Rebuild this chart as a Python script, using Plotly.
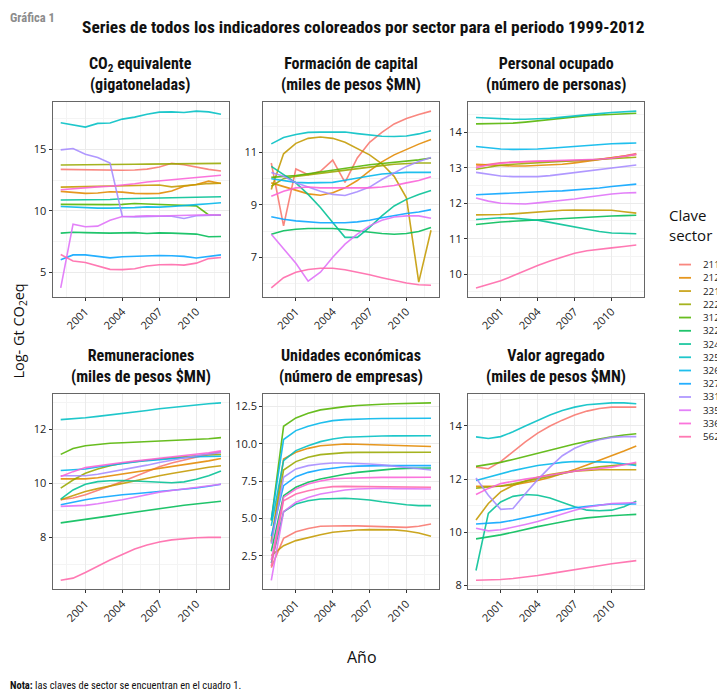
import math
import plotly.graph_objects as go

years = list(range(1999, 2013))
sectors = ["211", "212", "221", "222", "312", "322", "324", "325", "326", "327", "331", "335", "336", "562"]

co2 = {
    "211": [13.38, 13.36, 13.33, 13.32, 13.32, 13.31, 13.33, 13.40, 13.57, 13.87, 13.76, 13.54, 13.38, 13.25],
    "212": [11.58, 11.52, 11.42, 11.45, 11.55, 11.52, 11.42, 11.40, 11.42, 11.62, 12.00, 12.15, 12.42, 12.22],
    "221": [11.93, 11.95, 11.98, 11.98, 11.98, 12.00, 12.05, 12.08, 12.10, 11.95, 12.05, 12.15, 12.22, 12.25],
    "222": [13.73, 13.75, 13.76, 13.77, 13.78, 13.79, 13.80, 13.81, 13.82, 13.83, 13.84, 13.85, 13.86, 13.87],
    "312": [10.52, 10.50, 10.50, 10.50, 10.50, 10.52, 10.60, 10.55, 10.50, 10.50, 10.42, 10.40, 9.66, 9.64],
    "322": [8.18, 8.25, 8.22, 8.18, 8.18, 8.20, 8.22, 8.15, 8.20, 8.18, 8.15, 8.10, 7.88, 7.90],
    "324": [10.88, 10.88, 10.88, 10.90, 10.92, 10.98, 11.00, 11.00, 11.00, 11.02, 11.05, 11.08, 11.12, 11.15],
    "325": [17.18, 17.00, 16.83, 17.13, 17.16, 17.48, 17.64, 17.88, 18.05, 18.07, 18.02, 18.13, 18.07, 17.88],
    "326": [10.35, 10.30, 10.22, 10.22, 10.22, 10.22, 10.26, 10.32, 10.30, 10.35, 10.40, 10.50, 10.58, 10.65],
    "327": [6.00, 6.40, 6.40, 6.30, 6.16, 6.25, 6.30, 6.30, 6.35, 6.33, 6.28, 6.15, 6.30, 6.40],
    "331": [14.97, 15.08, 14.62, 14.35, 13.90, 9.53, 9.50, 9.55, 9.55, 9.55, 9.37, 9.60, 9.66, 9.66],
    "335": [3.71, 8.91, 8.70, 8.75, 9.23, 9.53, 9.55, 9.60, 9.58, 9.60, 9.65, 9.70, 9.68, 9.66],
    "336": [11.71, 11.80, 11.88, 11.95, 12.00, 12.08, 12.20, 12.35, 12.45, 12.55, 12.65, 12.72, 12.80, 12.90],
    "562": [6.43, 5.90, 5.78, 5.50, 5.22, 5.20, 5.27, 5.50, 5.60, 5.62, 5.57, 5.73, 6.10, 6.19],
}

capital = {
    "211": [10.60, 8.20, 10.37, 10.15, 10.28, 10.71, 9.86, 10.79, 11.39, 11.77, 12.09, 12.30, 12.45, 12.58],
    "212": [9.84, 9.71, 9.55, 9.42, 9.37, 9.46, 9.65, 9.93, 10.30, 10.64, 10.91, 11.13, 11.32, 11.50],
    "221": [9.59, 10.95, 11.35, 11.54, 11.59, 11.54, 11.39, 11.16, 10.91, 10.57, 10.09, 9.27, 6.05, 8.03],
    "222": [9.71, 10.00, 10.09, 10.15, 10.22, 10.28, 10.34, 10.40, 10.45, 10.50, 10.55, 10.58, 10.60, 10.60],
    "312": [10.05, 10.08, 10.12, 10.19, 10.26, 10.34, 10.40, 10.47, 10.53, 10.58, 10.62, 10.66, 10.72, 10.79],
    "322": [7.88, 8.01, 8.07, 8.10, 8.10, 8.10, 8.06, 8.01, 7.95, 7.91, 7.88, 7.91, 7.98, 8.14],
    "324": [10.47, 10.15, 9.84, 9.40, 8.90, 8.33, 7.76, 7.76, 8.14, 8.58, 8.96, 9.21, 9.40, 9.55],
    "325": [11.33, 11.57, 11.69, 11.77, 11.78, 11.78, 11.78, 11.72, 11.66, 11.62, 11.61, 11.63, 11.71, 11.83],
    "326": [10.00, 9.93, 9.86, 9.84, 9.84, 9.86, 9.94, 10.03, 10.10, 10.18, 10.22, 10.24, 10.24, 10.24],
    "327": [8.55, 8.45, 8.39, 8.35, 8.32, 8.32, 8.32, 8.35, 8.41, 8.51, 8.60, 8.67, 8.73, 8.82],
    "331": [10.24, 10.09, 9.84, 9.68, 9.52, 9.40, 9.36, 9.50, 9.68, 9.97, 10.22, 10.47, 10.66, 10.81],
    "335": [7.88, 7.34, 6.77, 6.09, 6.43, 7.00, 7.50, 7.88, 8.20, 8.41, 8.54, 8.58, 8.58, 8.49],
    "336": [9.33, 9.52, 9.65, 9.68, 9.65, 9.65, 9.65, 9.65, 9.65, 9.68, 9.74, 9.84, 9.93, 10.07],
    "562": [5.83, 6.22, 6.43, 6.53, 6.58, 6.58, 6.52, 6.43, 6.33, 6.22, 6.12, 6.02, 5.95, 5.93],
}

personal = {
    "211": [13.05, 13.10, 13.14, 13.16, 13.17, 13.17, 13.18, 13.19, 13.19, 13.21, 13.24, 13.28, 13.33, 13.40],
    "212": [13.10, 13.08, 13.06, 13.05, 13.05, 13.06, 13.08, 13.10, 13.14, 13.18, 13.23, 13.28, 13.33, 13.38],
    "221": [11.67, 11.67, 11.68, 11.70, 11.73, 11.76, 11.78, 11.80, 11.81, 11.81, 11.80, 11.80, 11.76, 11.72],
    "222": [12.96, 13.02, 13.07, 13.10, 13.12, 13.14, 13.16, 13.18, 13.20, 13.21, 13.23, 13.26, 13.28, 13.30],
    "312": [14.24, 14.24, 14.24, 14.26, 14.29, 14.33, 14.37, 14.41, 14.45, 14.47, 14.49, 14.51, 14.53, 14.54],
    "322": [11.40, 11.44, 11.47, 11.49, 11.51, 11.54, 11.56, 11.58, 11.59, 11.60, 11.62, 11.64, 11.65, 11.66],
    "324": [11.54, 11.57, 11.59, 11.58, 11.56, 11.52, 11.46, 11.39, 11.33, 11.26, 11.20, 11.16, 11.14, 11.14],
    "325": [14.42, 14.40, 14.38, 14.37, 14.37, 14.38, 14.40, 14.43, 14.47, 14.50, 14.53, 14.56, 14.58, 14.60],
    "326": [13.60, 13.56, 13.53, 13.52, 13.52, 13.53, 13.55, 13.58, 13.61, 13.63, 13.66, 13.68, 13.69, 13.70],
    "327": [12.24, 12.26, 12.28, 12.30, 12.31, 12.33, 12.34, 12.35, 12.37, 12.40, 12.43, 12.47, 12.51, 12.54],
    "331": [12.87, 12.82, 12.77, 12.75, 12.74, 12.75, 12.78, 12.82, 12.87, 12.91, 12.96, 13.00, 13.04, 13.08],
    "335": [12.15, 12.06, 12.00, 11.98, 11.98, 12.01, 12.04, 12.08, 12.12, 12.17, 12.22, 12.26, 12.29, 12.30],
    "336": [13.00, 13.08, 13.13, 13.16, 13.18, 13.19, 13.20, 13.20, 13.21, 13.22, 13.24, 13.27, 13.32, 13.38],
    "562": [9.61, 9.70, 9.81, 9.95, 10.10, 10.24, 10.37, 10.49, 10.59, 10.66, 10.71, 10.74, 10.78, 10.82],
}

remuneraciones = {
    "211": [9.39, 9.45, 9.57, 9.75, 9.90, 10.06, 10.25, 10.43, 10.61, 10.75, 10.86, 10.98, 11.08, 11.17],
    "212": [10.16, 10.16, 10.16, 10.20, 10.27, 10.33, 10.39, 10.46, 10.53, 10.60, 10.67, 10.74, 10.83, 10.92],
    "221": [9.39, 9.55, 9.69, 9.80, 9.90, 10.00, 10.10, 10.19, 10.28, 10.36, 10.44, 10.52, 10.59, 10.65],
    "222": [9.82, 10.12, 10.37, 10.53, 10.65, 10.74, 10.80, 10.86, 10.90, 10.94, 10.98, 11.02, 11.05, 11.07],
    "312": [11.07, 11.29, 11.39, 11.44, 11.48, 11.50, 11.52, 11.54, 11.56, 11.57, 11.59, 11.61, 11.65, 11.69],
    "322": [8.53, 8.59, 8.65, 8.72, 8.79, 8.86, 8.93, 9.00, 9.06, 9.12, 9.18, 9.23, 9.28, 9.33],
    "324": [9.41, 9.75, 9.96, 10.06, 10.09, 10.10, 10.08, 10.06, 10.04, 10.02, 10.05, 10.15, 10.28, 10.45],
    "325": [12.36, 12.39, 12.43, 12.48, 12.53, 12.58, 12.64, 12.70, 12.76, 12.81, 12.86, 12.91, 12.95, 12.98],
    "326": [10.47, 10.50, 10.53, 10.60, 10.67, 10.74, 10.79, 10.84, 10.88, 10.92, 10.95, 10.98, 10.99, 11.00],
    "327": [9.20, 9.30, 9.39, 9.46, 9.52, 9.57, 9.61, 9.65, 9.69, 9.73, 9.77, 9.82, 9.89, 9.96],
    "331": [10.28, 10.28, 10.28, 10.33, 10.41, 10.49, 10.58, 10.67, 10.77, 10.86, 10.94, 11.02, 11.08, 11.14],
    "335": [9.14, 9.15, 9.18, 9.24, 9.31, 9.39, 9.48, 9.57, 9.67, 9.73, 9.79, 9.84, 9.90, 9.96],
    "336": [10.25, 10.43, 10.58, 10.65, 10.72, 10.77, 10.82, 10.87, 10.92, 10.97, 11.02, 11.07, 11.13, 11.20],
    "562": [6.40, 6.48, 6.69, 6.93, 7.15, 7.36, 7.56, 7.71, 7.82, 7.90, 7.95, 7.98, 7.99, 7.99],
}

unidades = {
    "211": [1.70, 3.66, 4.11, 4.33, 4.47, 4.51, 4.51, 4.50, 4.47, 4.45, 4.43, 4.40, 4.47, 4.63],
    "212": [3.50, 8.99, 9.44, 9.70, 9.88, 9.95, 9.99, 9.97, 9.95, 9.92, 9.89, 9.86, 9.83, 9.82],
    "221": [2.50, 3.17, 3.51, 3.73, 3.91, 4.07, 4.16, 4.22, 4.25, 4.25, 4.23, 4.16, 4.02, 3.80],
    "222": [3.40, 8.25, 8.81, 9.10, 9.28, 9.37, 9.41, 9.43, 9.44, 9.44, 9.44, 9.44, 9.44, 9.44],
    "312": [4.85, 11.18, 11.74, 12.05, 12.28, 12.41, 12.50, 12.57, 12.63, 12.66, 12.69, 12.72, 12.74, 12.75],
    "322": [2.80, 6.53, 7.09, 7.42, 7.65, 7.82, 7.96, 8.09, 8.18, 8.27, 8.32, 8.36, 8.37, 8.38],
    "324": [2.00, 5.45, 5.97, 6.19, 6.30, 6.35, 6.35, 6.30, 6.24, 6.12, 6.01, 5.92, 5.86, 5.86],
    "325": [4.50, 8.88, 9.55, 9.88, 10.15, 10.33, 10.44, 10.48, 10.51, 10.53, 10.54, 10.55, 10.55, 10.55],
    "326": [4.90, 10.29, 10.89, 11.18, 11.40, 11.56, 11.63, 11.67, 11.69, 11.70, 11.71, 11.72, 11.72, 11.72],
    "327": [3.80, 7.20, 7.80, 8.09, 8.27, 8.38, 8.47, 8.51, 8.54, 8.54, 8.54, 8.54, 8.54, 8.54],
    "331": [3.30, 7.76, 8.32, 8.54, 8.65, 8.72, 8.72, 8.70, 8.65, 8.59, 8.50, 8.41, 8.32, 8.25],
    "335": [0.85, 5.45, 6.08, 6.41, 6.64, 6.80, 6.91, 6.97, 7.02, 7.02, 7.00, 6.99, 6.98, 6.97],
    "336": [2.20, 6.41, 6.97, 7.31, 7.51, 7.65, 7.69, 7.72, 7.74, 7.75, 7.75, 7.76, 7.76, 7.76],
    "562": [1.80, 6.19, 6.64, 6.86, 7.02, 7.13, 7.15, 7.14, 7.13, 7.12, 7.11, 7.09, 7.09, 7.09],
}

valor = {
    "211": [12.45, 12.39, 12.66, 13.04, 13.40, 13.73, 14.00, 14.22, 14.41, 14.56, 14.66, 14.71, 14.72, 14.71],
    "212": [11.73, 11.72, 11.73, 11.78, 11.86, 11.95, 12.06, 12.20, 12.36, 12.53, 12.70, 12.88, 13.06, 13.25],
    "221": [10.46, 11.08, 11.52, 11.76, 11.93, 12.07, 12.17, 12.25, 12.30, 12.33, 12.35, 12.35, 12.35, 12.35],
    "222": [11.66, 11.70, 11.74, 11.82, 11.92, 12.01, 12.12, 12.22, 12.32, 12.40, 12.46, 12.51, 12.55, 12.57],
    "312": [12.48, 12.55, 12.63, 12.74, 12.86, 12.97, 13.09, 13.21, 13.32, 13.42, 13.51, 13.59, 13.66, 13.71],
    "322": [9.75, 9.82, 9.90, 10.00, 10.11, 10.21, 10.30, 10.39, 10.48, 10.54, 10.59, 10.62, 10.65, 10.67],
    "324": [8.56, 10.71, 11.14, 11.35, 11.42, 11.39, 11.29, 11.12, 10.96, 10.83, 10.81, 10.83, 10.96, 11.17],
    "325": [13.59, 13.53, 13.60, 13.78, 14.00, 14.21, 14.41, 14.58, 14.71, 14.80, 14.84, 14.87, 14.87, 14.84],
    "326": [11.95, 12.08, 12.20, 12.32, 12.42, 12.51, 12.57, 12.63, 12.66, 12.66, 12.65, 12.63, 12.58, 12.51],
    "327": [10.31, 10.33, 10.37, 10.45, 10.55, 10.65, 10.74, 10.84, 10.92, 10.98, 11.02, 11.06, 11.06, 11.06],
    "331": [12.04, 11.39, 10.86, 10.89, 11.45, 11.98, 12.45, 12.88, 13.16, 13.35, 13.48, 13.57, 13.60, 13.60],
    "335": [10.15, 10.05, 10.09, 10.18, 10.29, 10.40, 10.54, 10.69, 10.83, 10.94, 11.02, 11.08, 11.10, 11.12],
    "336": [11.42, 11.65, 11.83, 11.92, 12.00, 12.07, 12.15, 12.23, 12.30, 12.35, 12.40, 12.45, 12.54, 12.63],
    "562": [8.19, 8.20, 8.22, 8.26, 8.31, 8.37, 8.44, 8.52, 8.60, 8.67, 8.74, 8.81, 8.87, 8.93],
}

panel_titles = [
    "CO<sub>2</sub> equivalente<br>(gigatoneladas)",
    "Formación de capital<br>(miles de pesos $MN)",
    "Personal ocupado<br>(número de personas)",
    "Remuneraciones<br>(miles de pesos $MN)",
    "Unidades económicas<br>(número de empresas)",
    "Valor agregado<br>(miles de pesos $MN)",
]
panel_data = [co2, capital, personal, remuneraciones, unidades, valor]
y_major = [5, 2, 1, 2, 2.5, 2]
y_tick0 = [0, 1, 0, 0, 0, 0]
y_fmt = ["d", "d", "d", "d", ".1f", "d"]
x_ticks = [2001, 2004, 2007, 2010]


# ggplot2 default hue palette (HCL, c=100, l=65)
def hcl_rgb(h, c=100.0, l=65.0):
    hr = math.radians(h)
    u, v = c * math.cos(hr), c * math.sin(hr)
    Xn, Yn, Zn = 95.047, 100.0, 108.883
    Y = Yn * ((l + 16) / 116) ** 3
    den = Xn + 15 * Yn + 3 * Zn
    un, vn = 4 * Xn / den, 9 * Yn / den
    up, vp = u / (13 * l) + un, v / (13 * l) + vn
    X = Y * 9 * up / (4 * vp)
    Z = Y * (12 - 3 * up - 20 * vp) / (4 * vp)
    X, Y, Z = X / 100, Y / 100, Z / 100
    r = 3.2404542 * X - 1.5371385 * Y - 0.4985314 * Z
    g = -0.9692660 * X + 1.8760108 * Y + 0.0415560 * Z
    b = 0.0556434 * X - 0.2040259 * Y + 1.0572252 * Z

    def gam(t):
        t = 12.92 * t if t <= 0.0031308 else 1.055 * t ** (1 / 2.4) - 0.055
        return int(round(max(0.0, min(1.0, t)) * 255))

    return gam(r), gam(g), gam(b)


n = len(sectors)
colors = {}
for i, s in enumerate(sectors):
    r, g, b = hcl_rgb(15 + 360.0 * i / n)
    colors[s] = f"rgba({r},{g},{b},0.88)"

# the page body has an 8px margin: the figure is sized so it ends at the window edge
OFF = 8
W, H = 725 - OFF, 696 - OFF


def px(x):
    return max(0.0, (x - OFF) / W)


def py(y):
    return min(1.0, 1 - (y - OFF) / H)


col_x = [(52.7, 229.0), (263.3, 439.0), (468.0, 644.3)]
row_y = [(102.7, 298.0), (395.7, 591.7)]

fig = go.Figure()
layout = {}
annotations = []
shapes = []
NARROW = "Roboto Condensed, Liberation Sans Narrow, DejaVu Sans Condensed, Roboto, sans-serif"
BODY = "Open Sans, Liberation Sans, sans-serif"

for k in range(6):
    r, c = divmod(k, 3)
    ax = "" if k == 0 else str(k + 1)
    data = panel_data[k]
    for s in sectors:
        fig.add_trace(go.Scatter(
            x=years, y=data[s], mode="lines", name=s,
            line=dict(color=colors[s], width=1.6),
            xaxis="x" + ax, yaxis="y" + ax, showlegend=False,
            hovertemplate=s + ": %{y}<extra></extra>",
        ))
    vals = [v for s in sectors for v in data[s]]
    lo, hi = min(vals), max(vals)
    pad = 0.05 * (hi - lo)
    x0, x1 = col_x[c]
    y0, y1 = row_y[r]
    layout["xaxis" + ax] = dict(
        domain=[px(x0), px(x1)], anchor="y" + ax,
        range=[1999 - 0.65, 2012 + 0.65],
        tickvals=x_ticks, ticktext=[str(t) for t in x_ticks], tickangle=-45,
        ticks="outside", ticklen=3, tickcolor="#333333",
        tickfont=dict(family=BODY, size=11, color="#222222"),
        showgrid=True, gridcolor="#EBEBEB", gridwidth=1,
        minor=dict(showgrid=True, gridcolor="#F4F4F4", gridwidth=0.6,
                   tickvals=[1999.5, 2002.5, 2005.5, 2008.5, 2011.5]),
        showline=True, linecolor="#666666", linewidth=1.2, mirror=True, zeroline=False,
    )
    layout["yaxis" + ax] = dict(
        domain=[py(y1), py(y0)], anchor="x" + ax,
        range=[lo - pad, hi + pad],
        dtick=y_major[k], tick0=y_tick0[k], tickformat=y_fmt[k],
        ticks="outside", ticklen=3, tickcolor="#333333",
        tickfont=dict(family=BODY, size=11, color="#222222"),
        showgrid=True, gridcolor="#EBEBEB", gridwidth=1,
        minor=dict(showgrid=True, gridcolor="#F4F4F4", gridwidth=0.6,
                   dtick=y_major[k] / 2, tick0=y_tick0[k]),
        showline=True, linecolor="#666666", linewidth=1.2, mirror=True, zeroline=False,
    )
    annotations.append(dict(
        text="<b>" + panel_titles[k] + "</b>", x=px((x0 + x1) / 2), y=py(y0 - 6),
        xanchor="center", yanchor="bottom",
        font=dict(family=NARROW, size=16, color="#111111"),
    ))

annotations += [
    dict(text="<b>Gráfica 1</b>", x=px(2), y=py(8), xanchor="left", yanchor="top",
         font=dict(family=NARROW, size=12.5, color="#8C8C8C")),
    dict(text="<b>Series de todos los indicadores coloreados por sector para el periodo 1999-2012</b>",
         x=px(363), y=py(27), xanchor="center", yanchor="middle",
         font=dict(family=NARROW, size=17.4, color="#111111")),
    dict(text="Log- Gt CO<sub>2</sub>eq", x=px(20), y=py(333), xanchor="center", yanchor="middle",
         textangle=-90, font=dict(family=BODY, size=14.5, color="#111111")),
    dict(text="Año", x=px(362), y=py(660), xanchor="center", yanchor="middle",
         font=dict(family=BODY, size=16, color="#111111")),
    dict(text="<b>Nota:</b> las claves de sector se encuentran en el cuadro 1.", x=px(0), y=py(688),
         xanchor="left", yanchor="middle", font=dict(family=NARROW, size=10.5, color="#111111")),
    dict(text="Clave<br>sector", x=px(667), y=py(204), xanchor="left", yanchor="top", align="left",
         font=dict(family=BODY, size=15, color="#111111")),
]
for i, s in enumerate(sectors):
    yy = 265.7 + 13.3 * i
    shapes.append(dict(type="line", xref="paper", yref="paper", x0=px(679), x1=px(691),
                       y0=py(yy), y1=py(yy), line=dict(color=colors[s], width=1.8)))
    annotations.append(dict(text=s, x=px(701), y=py(yy), xanchor="left", yanchor="middle",
                            font=dict(family=BODY, size=9.8, color="#222222")))

for a in annotations:
    a.setdefault("xref", "paper")
    a.setdefault("yref", "paper")
    a.setdefault("showarrow", False)

fig.update_layout(
    width=W, height=H, margin=dict(l=0, r=0, t=0, b=0),
    paper_bgcolor="white", plot_bgcolor="white",
    annotations=annotations, shapes=shapes, showlegend=False,
    **layout,
)

fig.write_html("out.html")
